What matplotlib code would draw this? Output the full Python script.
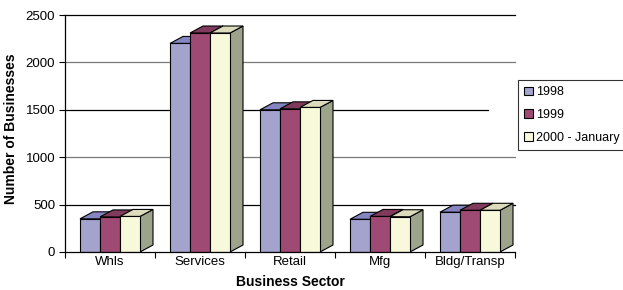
import matplotlib
matplotlib.use("Agg")
import matplotlib.pyplot as plt
from matplotlib.patches import Polygon, Patch
import numpy as np

plt.rcParams['font.family'] = ['Liberation Sans', 'DejaVu Sans']

categories = ["Whls", "Services", "Retail", "Mfg", "Bldg/Transp"]
series_names = ["1998", "1999", "2000 - January"]
v1998 = [350, 2200, 1500, 345, 420]
v1999 = [370, 2310, 1510, 375, 440]
v2000 = [375, 2310, 1525, 372, 440]
yticks = [0, 500, 1000, 1500, 2000, 2500]

front_colors = ["#a3a3cd", "#9f4a74", "#f8f8da"]
top_colors = ["#8585c2", "#7f3a5c", "#dcdcbc"]
side_colors = ["#7e7ea6", "#7a3658", "#9ea38b"]

fig = plt.figure(figsize=(6.23, 2.90), dpi=100)
ax = fig.add_axes([65/623, 38/290, 450/623, 237/290])
ax.set_xlim(-0.5, 4.5)
ax.set_ylim(0, 2500)

bw = 20/90
dx = 13/90
dy = 7 * 2500/237

# gridlines
grid_colors = {500: "black", 1000: "#7a7a7a", 1500: "black", 2000: "#7a7a7a", 2500: "black"}
for t in yticks[1:]:
    xmax = 1.0 if t != 1500 else (488-65)/450
    ax.axhline(t, xmin=0, xmax=xmax, color=grid_colors[t], lw=0.9, zorder=0, clip_on=False)

x = np.arange(len(categories))
series = [v1998, v1999, v2000]
z = 2
for i in range(len(categories)):
    for j, vals in enumerate(series):
        v = vals[i]
        x0 = x[i] + (j - 1) * bw - bw/2
        x1 = x0 + bw
        side = Polygon([(x1, 0), (x1 + dx, dy), (x1 + dx, v + dy), (x1, v)],
                       closed=True, facecolor=side_colors[j], edgecolor="black", lw=0.8, zorder=z, clip_on=False)
        top = Polygon([(x0, v), (x1, v), (x1 + dx, v + dy), (x0 + dx, v + dy)],
                      closed=True, facecolor=top_colors[j], edgecolor="black", lw=0.8, zorder=z, clip_on=False)
        ax.add_patch(side)
        ax.add_patch(top)
        ax.bar(x0, v, width=bw, align='edge', color=front_colors[j], edgecolor="black", lw=0.8, zorder=z+0.5)
        z += 1

for s in ["top", "right"]:
    ax.spines[s].set_visible(False)
ax.spines["left"].set_linewidth(0.9)
ax.spines["bottom"].set_linewidth(0.9)
ax.spines["bottom"].set_zorder(100)

ax.set_yticks(yticks)
ax.set_yticklabels([str(t) for t in yticks], fontsize=9.5)
ax.tick_params(axis='y', direction='out', length=4, width=0.8, pad=3)
ax.set_xticks(x)
ax.set_xticklabels(categories, fontsize=9.5)
ax.tick_params(axis='x', which='major', length=0, pad=3)
ax.set_xticks(np.arange(-0.5, 5.0, 1.0), minor=True)
ax.tick_params(axis='x', which='minor', direction='out', length=4, width=0.8)

ax.set_ylabel("Number of Businesses", fontsize=10, fontweight='bold', labelpad=7)
ax.yaxis.set_label_coords(-0.105, 0.52)
ax.set_xlabel("Business Sector", fontsize=10, fontweight='bold', labelpad=5)

handles = [Patch(facecolor=c, edgecolor="black", lw=0.8) for c in front_colors]
leg = fig.legend(handles, series_names, loc='upper left',
                 bbox_to_anchor=(518/623, 1 - 150/290, 112/623, 70/290), mode='expand',
                 fontsize=9, frameon=True, fancybox=False, borderaxespad=0,
                 handlelength=0.7, handleheight=0.7, handletextpad=0.25, labelspacing=0.85,
                 borderpad=0.5)
leg.get_frame().set_edgecolor("black")
leg.get_frame().set_linewidth(0.8)

fig.savefig("out.png", dpi=100)
